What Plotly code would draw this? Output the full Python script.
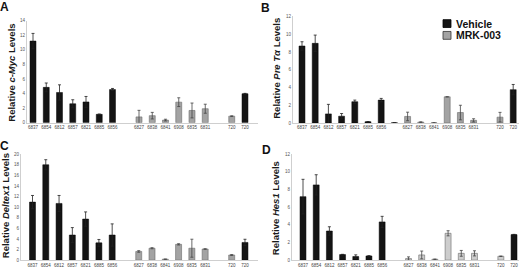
import plotly.graph_objects as go

W, H = 520, 271

categories = ["6837", "6854", "6812", "6857", "6821", "6885", "6856", "",
              "6827", "6838", "6841", "6908", "6835", "6831", "", "720", "720"]
N = None

# Panel A: c-Myc
a_vehicle = [11.2, 4.85, 4.15, 2.6, 2.85, 1.15, 4.55, N, N, N, N, N, N, N, N, N, 3.98]
a_vehicle_err = [1.05, 0.6, 1.05, 0.55, 0.75, 0.05, 0.15, N, N, N, N, N, N, N, N, N, 0.05]
a_mrk = [N, N, N, N, N, N, N, N, 0.8, 0.97, 0.36, 2.82, 1.68, 1.92, N, 0.9, N]
a_mrk_err = [N, N, N, N, N, N, N, N, 0.9, 0.45, 0.12, 0.6, 1.02, 0.62, N, 0.05, N]

# Panel B: Pre T-alpha
b_vehicle = [8.67, 8.97, 1.03, 0.77, 2.4, 0.15, 2.58, 0.03, N, N, N, N, N, N, N, N, 3.76]
b_vehicle_err = [0.48, 0.93, 1.07, 0.3, 0.18, 0.02, 0.19, 0, N, N, N, N, N, N, N, N, 0.58]
b_mrk = [N, N, N, N, N, N, N, N, 0.74, 0.1, 0.02, 2.95, 1.18, 0.3, N, 0.66, N]
b_mrk_err = [N, N, N, N, N, N, N, N, 0.48, 0.03, 0.01, 0.0, 0.82, 0.18, N, 0.54, N]

# Panel C: Deltex1
c_vehicle = [10.95, 18.0, 10.7, 4.74, 7.75, 3.26, 4.74, N, N, N, N, N, N, N, N, N, 3.34]
c_vehicle_err = [1.25, 0.95, 1.5, 1.4, 1.35, 0.64, 2.1, N, N, N, N, N, N, N, N, N, 0.6]
c_mrk = [N, N, N, N, N, N, N, N, 1.64, 2.25, 0.18, 2.98, 2.25, 2.1, N, 0.97, N]
c_mrk_err = [N, N, N, N, N, N, N, N, 0.15, 0.1, 0.03, 0.12, 1.7, 0.05, N, 0.08, N]

# Panel D: Hes1
d_vehicle = [7.19, 8.52, 3.3, 0.63, 0.41, 0.48, 4.33, N, N, N, N, N, N, N, N, N, 2.89]
d_vehicle_err = [1.96, 1.15, 0.48, 0.03, 0.19, 0.02, 0.63, N, N, N, N, N, N, N, N, N, 0.03]
d_mrk = [N, N, N, N, N, N, N, N, 0.18, 0.59, 0.1, 3.04, 0.77, 0.77, N, 0.44, N]
d_mrk_err = [N, N, N, N, N, N, N, N, 0.19, 0.44, 0.02, 0.29, 0.33, 0.29, N, 0.02, N]

y_titles = ["Relative <i>c-Myc</i> Levels", "Relative <i>Pre T\u03b1</i> Levels",
            "Relative <i>Deltex1</i> Levels", "Relative <i>Hes1</i> Levels"]
y_max = [14, 12, 20, 12]
letters = ["A", "B", "C", "D"]

FONT = "Arial, Liberation Sans, sans-serif"
BLACK = "#141414"
GRAY_ABC = "#a3a3a3"
GRAY_D = "#cdcdcd"


def px_x(v):
    return v / W


def px_y(v):
    return 1 - v / H


# panel geometry in pixels: axis x, first slot x, slot spacing, right x, y of top value, y of zero
panels = [
    dict(ax=27, s0=33, sp=13.25, right=258, ytop=19, ybot=123),
    dict(ax=293, s0=302, sp=13.2, right=519, ytop=14.7, ybot=123.3),
    dict(ax=21, s0=32.5, sp=13.28, right=258, ytop=155, ybot=263),
    dict(ax=292, s0=303, sp=13.19, right=519, ytop=155, ybot=263),
]

data = [
    (a_vehicle, a_vehicle_err, a_mrk, a_mrk_err, GRAY_ABC),
    (b_vehicle, b_vehicle_err, b_mrk, b_mrk_err, GRAY_ABC),
    (c_vehicle, c_vehicle_err, c_mrk, c_mrk_err, GRAY_ABC),
    (d_vehicle, d_vehicle_err, d_mrk, d_mrk_err, GRAY_D),
]

x_idx = list(range(len(categories)))

fig = go.Figure()
layout = dict(
    width=W, height=H, margin=dict(l=0, r=0, t=0, b=0),
    paper_bgcolor="white", plot_bgcolor="white",
    barmode="overlay", showlegend=False,
    font=dict(family=FONT, color="#222"),
)
annotations = []
shapes = []

for i, (p, (veh, veh_err, mrk, mrk_err, gcol)) in enumerate(zip(panels, data)):
    n = "" if i == 0 else str(i + 1)
    xa, ya = "x" + n, "y" + n
    fig.add_trace(go.Bar(
        x=x_idx, y=veh, width=0.45, name="Vehicle", xaxis=xa, yaxis=ya,
        marker=dict(color=BLACK, line=dict(color="#000", width=0.5)),
        error_y=dict(type="data", array=veh_err, symmetric=True, color="#222",
                     thickness=0.8, width=1.5),
    ))
    fig.add_trace(go.Bar(
        x=x_idx, y=mrk, width=0.45, name="MRK-003", xaxis=xa, yaxis=ya,
        marker=dict(color=gcol, line=dict(color="#6a6a6a", width=0.6)),
        error_y=dict(type="data", array=mrk_err, symmetric=True, color="#444",
                     thickness=0.8, width=1.5),
    ))
    r0 = (p["ax"] - p["s0"]) / p["sp"]
    r1 = (p["right"] - p["s0"]) / p["sp"]
    layout["xaxis" + n] = dict(
        domain=[px_x(p["ax"]), px_x(p["right"])], range=[r0, r1], anchor=ya,
        tickmode="array", tickvals=x_idx, ticktext=categories,
        tickfont=dict(size=4.5, color="#444", family=FONT), tickangle=0,
        showline=True, linecolor="#cfcfcf", linewidth=1, showgrid=False,
        zeroline=False, ticks="", ticklen=0,
    )
    layout["yaxis" + n] = dict(
        domain=[px_y(p["ybot"]), px_y(p["ytop"])], range=[0, y_max[i]], anchor=xa,
        tickmode="linear", tick0=0, dtick=2,
        tickfont=dict(size=4.5, color="#555", family=FONT),
        showline=True, linecolor="#cfcfcf", linewidth=1, showgrid=False,
        zeroline=False, ticks="", ticklen=0,
    )

# y-axis titles
title_pos = [(12, 72), (277, 68), (5, 208), (275, 210)]
for t, (tx, ty) in zip(y_titles, title_pos):
    annotations.append(dict(
        text="<b>" + t + "</b>", x=px_x(tx), y=px_y(ty), xref="paper", yref="paper",
        textangle=-90, showarrow=False, xanchor="center", yanchor="middle",
        font=dict(size=9.5, color="#1a1a1a", family=FONT),
    ))

# panel letters
letter_pos = [(4, 5), (265, 6), (4, 147), (266, 151)]
for L, (lx, ly) in zip(letters, letter_pos):
    annotations.append(dict(
        text="<b>" + L + "</b>", x=px_x(lx), y=px_y(ly), xref="paper", yref="paper",
        showarrow=False, xanchor="center", yanchor="middle",
        font=dict(size=12, color="#111", family=FONT),
    ))

# legend (panel B)
legend_items = [("Vehicle", BLACK, "#000", 22), ("MRK-003", GRAY_ABC, "#333", 34)]
for name, fill, line, ly in legend_items:
    shapes.append(dict(
        type="rect", xref="paper", yref="paper",
        x0=px_x(443), x1=px_x(451), y0=px_y(ly + 4), y1=px_y(ly - 4),
        fillcolor=fill, line=dict(color=line, width=0.8),
    ))
    annotations.append(dict(
        text="<b>" + name + "</b>", x=px_x(454), y=px_y(ly), xref="paper", yref="paper",
        showarrow=False, xanchor="left", yanchor="middle",
        font=dict(size=10.5, color="#111", family=FONT),
    ))

layout["annotations"] = annotations
layout["shapes"] = shapes
fig.update_layout(**layout)
fig.write_html("out.html", config={"displayModeBar": False, "staticPlot": True},
               post_script="document.body.style.margin='0';document.body.style.overflow='hidden';")
